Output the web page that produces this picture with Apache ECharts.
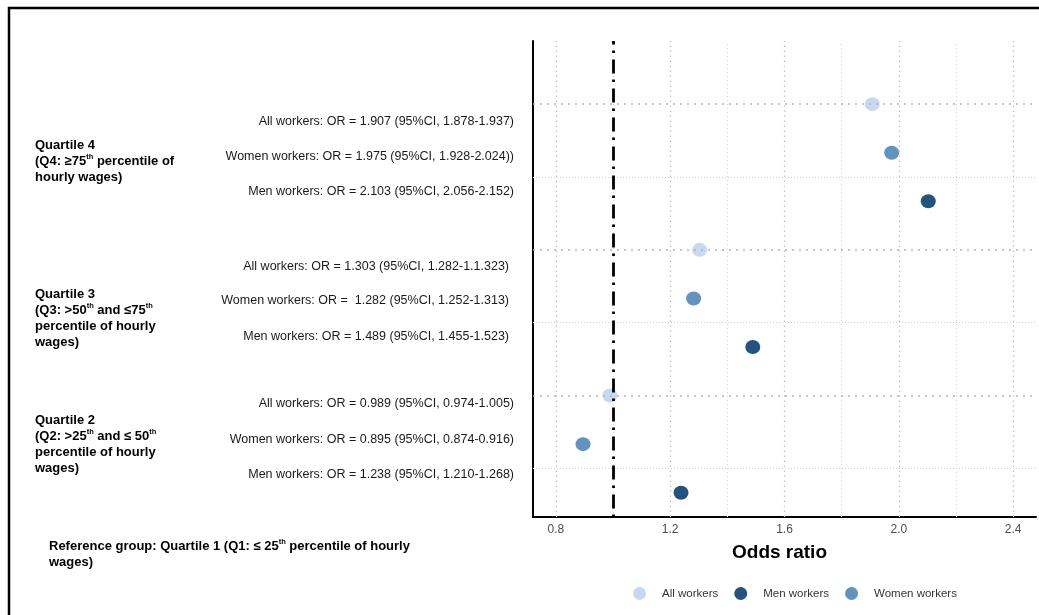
<!DOCTYPE html>
<html><head><meta charset="utf-8">
<script src="https://cdn.jsdelivr.net/npm/echarts@6/dist/echarts.min.js"></script>
<style>html,body{margin:0;padding:0;background:#fff}#c{width:1039px;height:615px}</style>
</head><body><div id="c"></div>
<script>
// ---- data ----
const seriesNames = ['All workers', 'Men workers', 'Women workers'];
// quartiles ordered bottom -> top (Q2, Q3, Q4)
const allOR = [0.989, 1.303, 1.907];
const menOR = [1.238, 1.489, 2.103];
const womenOR = [0.895, 1.282, 1.975];
const xTicks = [0.8, 1.2, 1.6, 2.0, 2.4];
const xMinorTicks = [1.0, 1.4, 1.8, 2.2];
const refOR = 1.0;
// row labels, top -> bottom (Q4, Q3, Q2)
const rowLabels = [
  ['All workers: OR = 1.907 (95%CI, 1.878-1.937)',
   'Women workers: OR = 1.975 (95%CI, 1.928-2.024))',
   'Men workers: OR = 2.103 (95%CI, 2.056-2.152)'],
  ['All workers: OR = 1.303 (95%CI, 1.282-1.1.323)',
   'Women workers: OR =  1.282 (95%CI, 1.252-1.313)',
   'Men workers: OR = 1.489 (95%CI, 1.455-1.523)'],
  ['All workers: OR = 0.989 (95%CI, 0.974-1.005)',
   'Women workers: OR = 0.895 (95%CI, 0.874-0.916)',
   'Men workers: OR = 1.238 (95%CI, 1.210-1.268)']
];
const groupLabels = [
  '{b|Quartile 4}\n{b|(Q4: \u226575}{s|th}{b| percentile of}\n{b|hourly wages)}',
  '{b|Quartile 3}\n{b|(Q3: >50}{s|th}{b| and \u226475}{s|th}\n{b|percentile of hourly}\n{b|wages)}',
  '{b|Quartile 2}\n{b|(Q2: >25}{s|th}{b| and \u2264 50}{s|th}\n{b|percentile of hourly}\n{b|wages)}'
];
const refGroupLabel = '{b|Reference group: Quartile 1 (Q1: \u2264 25}{s|th}{b| percentile of hourly}\n{b|wages)}';
const axisTitle = 'Odds ratio';

// ---- layout (text placement only) ----
const FONT = "'Liberation Sans', Arial, sans-serif";
const rowLabelY = [[122, 157, 191.5], [266.5, 301, 336.5], [403.5, 439.5, 474.5]];
const rowLabelRight = [514, 509, 514];
const groupLabelTop = [137, 286, 412];
const colors = {'All workers': '#c6d9f1', 'Men workers': '#23537f', 'Women workers': '#6193bf'};
// rank inside each quartile, bottom -> top
const rowRank = {'Men workers': 0, 'Women workers': 1, 'All workers': 2};
const valuesBySeries = {'All workers': allOR, 'Men workers': menOR, 'Women workers': womenOR};

const chart = echarts.init(document.getElementById('c'), null, {renderer: 'canvas'});

const graphics = [];
graphics.push({type: 'polyline', shape: {points: [[9, 615], [9, 8], [1039, 8]]},
  style: {stroke: '#000', lineWidth: 2.5, fill: null}, z: 10});
rowLabels.forEach((grp, g) => {
  grp.forEach((t, i) => {
    graphics.push({type: 'text', x: rowLabelRight[g], y: rowLabelY[g][i],
      style: {text: t, align: 'right', verticalAlign: 'middle', fontSize: 12.5,
        fontFamily: FONT, fill: '#1a1a1a'}});
  });
});
const rich = {
  b: {fontSize: 13, fontWeight: 'bold', fontFamily: FONT, lineHeight: 16, color: '#000'},
  s: {fontSize: 7.5, fontWeight: 'bold', fontFamily: FONT, lineHeight: 16, color: '#000', verticalAlign: 'top', padding: [0, 0, 7, 0]}
};
groupLabels.forEach((t, g) => {
  graphics.push({type: 'text', x: 35, y: groupLabelTop[g],
    style: {text: t, rich: rich, align: 'left', verticalAlign: 'top', fill: '#000'}});
});
graphics.push({type: 'text', x: 49, y: 538,
  style: {text: refGroupLabel, rich: rich, align: 'left', verticalAlign: 'top', fill: '#000'}});

// gridline mark lines derived from data rows / ticks
const nQ = allOR.length;
const gridLines = [];
xTicks.forEach(v => gridLines.push({xAxis: v, lineStyle: {color: '#c4c4c4', width: 1.3, type: [1.5, 3.5]}}));
xMinorTicks.forEach(v => gridLines.push({xAxis: v, lineStyle: {color: '#d4d4d4', width: 1.1, type: [1, 3]}}));
for (let q = 0; q < nQ; q++) {
  gridLines.push({yAxis: q * 3 + rowRank['All workers'], lineStyle: {color: '#b3b3b3', width: 1.6, type: [2, 5]}});
  gridLines.push({yAxis: q * 3 + (rowRank['Men workers'] + rowRank['Women workers']) / 2, lineStyle: {color: '#cfcfcf', width: 1, type: [1, 2]}});
}

const scatterSeries = seriesNames.map(name => ({
  name: name,
  type: 'scatter',
  z: 3,
  symbol: 'circle',
  symbolSize: [15, 14],
  itemStyle: {color: colors[name], opacity: 1},
  data: valuesBySeries[name].map((v, q) => [v, q * 3 + rowRank[name]])
}));

chart.setOption({
  animation: false,
  backgroundColor: '#fff',
  grid: {left: 533, right: 3, top: 41, bottom: 98, containLabel: false},
  xAxis: {
    type: 'value', min: 0.72, max: 2.48,
    axisLine: {onZero: false, lineStyle: {color: '#000', width: 2}},
    axisTick: {show: false},
    splitLine: {show: false},
    axisLabel: {customValues: xTicks, color: '#4d4d4d', fontSize: 12, fontFamily: FONT, margin: 7,
      formatter: v => Number(v).toFixed(1)},
    name: axisTitle, nameLocation: 'middle', nameGap: 26,
    nameTextStyle: {fontSize: 19, fontWeight: 'bold', color: '#000', fontFamily: FONT, padding: [0, 10, 0, 0]}
  },
  yAxis: {
    type: 'value', min: -0.5, max: 9.3,
    axisLine: {show: true, onZero: false, lineStyle: {color: '#000', width: 2}},
    axisTick: {show: false}, axisLabel: {show: false}, splitLine: {show: false}
  },
  legend: {
    data: seriesNames, left: 628, top: 582, icon: 'circle',
    itemWidth: 13, itemHeight: 13, itemGap: 16,
    textStyle: {fontSize: 11.5, color: '#333', fontFamily: FONT, padding: [0, 0, 0, 11]}
  },
  graphic: graphics,
  series: [
    {type: 'line', data: [], z: 1, silent: true,
      markLine: {silent: true, symbol: ['none', 'none'], label: {show: false}, animation: false, data: gridLines}},
    ...scatterSeries,
    {type: 'line', data: [], z: 5, silent: true,
      markLine: {silent: true, symbol: ['none', 'none'], label: {show: false}, animation: false,
        data: [{xAxis: refOR, lineStyle: {color: '#000', width: 2.8, type: [2.5, 6, 14, 6.5]}}]}}
  ]
});
</script></body></html>
